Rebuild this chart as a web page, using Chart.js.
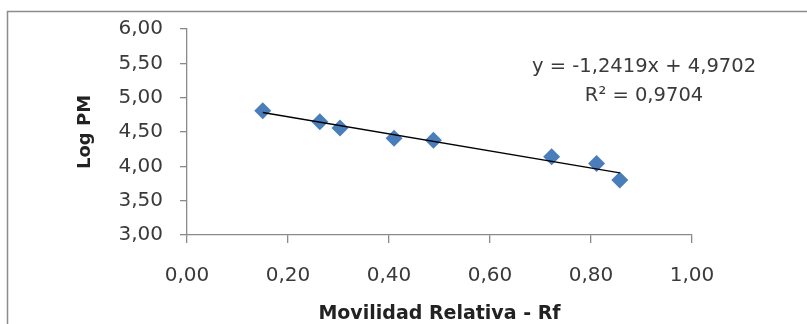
<!DOCTYPE html>
<html><head><meta charset="utf-8">
<script src="https://cdn.jsdelivr.net/npm/chart.js@4.4.0/dist/chart.umd.min.js"></script>
<style>html,body{margin:0;padding:0;background:#fff}canvas{display:block}</style>
</head><body>
<canvas id="c" width="807" height="324" style="width:807px;height:324px"></canvas>
<script>
const rfValues = [0.15, 0.263, 0.303, 0.41, 0.488, 0.722, 0.811, 0.857];
const logPM    = [4.81, 4.65, 4.56, 4.41, 4.38, 4.14, 4.04, 3.80];
const trendX = [0.15, 0.857];
const trendY = [4.784, 3.906];
const equationText = 'y = -1,2419x + 4,9702';
const r2Text = 'R² = 0,9704';
const xTitle = 'Movilidad Relativa - Rf';
const yTitle = 'Log PM';

const fmt = v => v.toFixed(2).replace('.', ',');
const textColor = '#3a3a3a';
const axisColor = '#8a8a8a';

const framePlugin = {
  id: 'frame',
  beforeDraw(chart) {
    const ctx = chart.ctx;
    ctx.save();
    ctx.fillStyle = '#fff';
    ctx.fillRect(0, 0, chart.width, chart.height);
    ctx.strokeStyle = '#8c8c8c';
    ctx.lineWidth = 1.5;
    ctx.beginPath();
    ctx.moveTo(7.5, chart.height);
    ctx.lineTo(7.5, 11.5);
    ctx.lineTo(chart.width, 11.5);
    ctx.stroke();
    ctx.restore();
  }
};
const eqPlugin = {
  id: 'eq',
  afterDatasetsDraw(chart) {
    const ctx = chart.ctx, xs = chart.scales.x, ys = chart.scales.y;
    ctx.save();
    ctx.fillStyle = textColor;
    ctx.font = '19.5px "DejaVu Sans"';
    ctx.textAlign = 'center';
    ctx.textBaseline = 'middle';
    ctx.fillText(equationText, xs.getPixelForValue(0.905), ys.getPixelForValue(5.45));
    ctx.fillText(r2Text, xs.getPixelForValue(0.905), ys.getPixelForValue(5.02));
    ctx.restore();
  }
};

new Chart(document.getElementById('c'), {
  type: 'scatter',
  data: {
    datasets: [
      {
        type: 'line',
        data: trendX.map((x, i) => ({x, y: trendY[i]})),
        borderColor: '#000',
        borderWidth: 1.3,
        pointRadius: 0,
        fill: false,
        order: 0
      },
      {
        data: rfValues.map((x, i) => ({x, y: logPM[i]})),
        pointStyle: 'rectRot',
        pointRadius: 8.5,
        pointBackgroundColor: '#4a7ebb',
        pointBorderColor: '#4a7ebb',
        pointBorderWidth: 0,
        order: 1
      }
    ]
  },
  options: {
    responsive: false,
    animation: false,
    events: [],
    layout: { padding: { top: 27, right: 115, bottom: 0, left: 0 } },
    plugins: { legend: { display: false }, tooltip: { enabled: false } },
    scales: {
      x: {
        type: 'linear', min: 0, max: 1,
        afterFit: s => { s.height = 89; },
        ticks: { stepSize: 0.2, callback: v => fmt(v), color: textColor, padding: 21,
                 font: { family: 'DejaVu Sans', size: 20 }, maxRotation: 0 },
        grid: { display: true, drawOnChartArea: false, drawTicks: true, tickLength: 8, color: axisColor, lineWidth: 1.3 },
        border: { display: true, color: axisColor, width: 1.3 },
        title: { display: true, text: xTitle, color: '#222', padding: { top: 0, bottom: 0.5 },
                 font: { family: 'DejaVu Sans', size: 19, weight: 'bold', lineHeight: 1 } }
      },
      y: {
        type: 'linear', min: 3, max: 6,
        afterFit: s => { s.width = 187; },
        ticks: { stepSize: 0.5, callback: v => fmt(v), color: textColor, padding: 17,
                 font: { family: 'DejaVu Sans', size: 20 } },
        grid: { display: true, drawOnChartArea: false, drawTicks: true, tickLength: 7, color: axisColor, lineWidth: 1.3 },
        border: { display: true, color: axisColor, width: 1.3 },
        title: { display: true, text: yTitle, color: '#222', padding: { top: 76, bottom: 0 },
                 font: { family: 'DejaVu Sans', size: 18, weight: 'bold', lineHeight: 1 } }
      }
    }
  },
  plugins: [framePlugin, eqPlugin]
});
</script>
</body></html>
